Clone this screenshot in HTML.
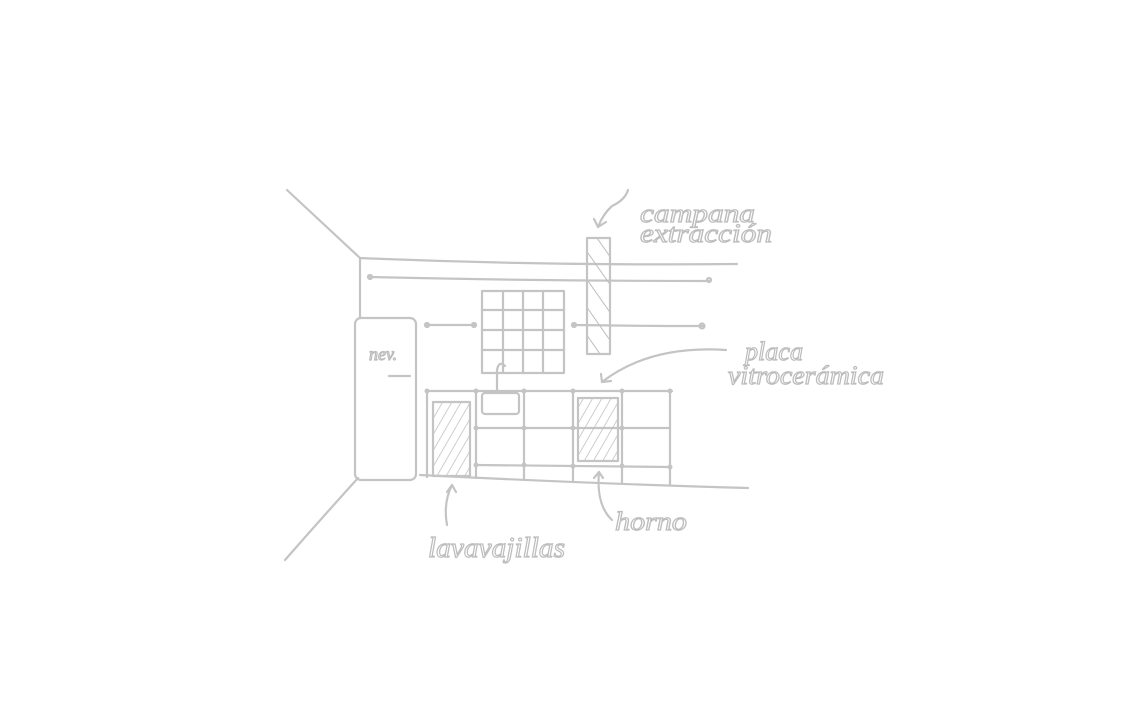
<!DOCTYPE html>
<html><head><meta charset="utf-8"><style>
html,body{margin:0;padding:0;background:#fff;}
svg{display:block}
text{font-family:"Liberation Serif",serif;font-style:italic;fill:#fff;stroke:#bdbdbd;stroke-width:1.2}
</style></head><body>
<svg width="1129" height="718" viewBox="0 0 1129 718" xmlns="http://www.w3.org/2000/svg">
<defs>
<pattern id="h" patternUnits="userSpaceOnUse" width="8" height="8" patternTransform="rotate(30)">
<line x1="0" y1="0" x2="0" y2="8" stroke="#bdbdbd" stroke-width="1.5"/>
</pattern>
<pattern id="h2" patternUnits="userSpaceOnUse" width="16" height="16" patternTransform="rotate(-35)">
<line x1="0" y1="0" x2="0" y2="16" stroke="#bdbdbd" stroke-width="2"/>
</pattern>
</defs>
<g fill="none" stroke="#c4c4c4" stroke-width="2.2" stroke-linecap="round" stroke-linejoin="round">
<path d="M287 190 Q330 230 360 258"/>
<path d="M360 258 L360 318"/>
<path d="M358 478 Q320 520 285 560"/>
<path d="M360 258 Q550 266 737 264"/>
<path d="M370 277 Q540 281 709 281"/>
<circle cx="370" cy="277" r="2"/><circle cx="709" cy="280" r="2"/>
<path d="M427 325 L474 325"/><circle cx="427" cy="325" r="2"/><circle cx="474" cy="325" r="2"/>
<path d="M574 325 Q640 326 703 326"/><circle cx="574" cy="325" r="2"/><circle cx="702" cy="326" r="2.5"/>
<rect x="482" y="291" width="82" height="82"/>
<path d="M503 291V373 M523 291V373 M543 291V373 M482 310H564 M482 330H564 M482 350H564"/>
<rect x="587" y="238" width="23" height="116" fill="url(#h2)"/>
<rect x="355" y="318" width="61" height="162" rx="6"/>
<path d="M389 376 L410 376"/>
<path d="M497 391 L497 370 Q499 360 505 366"/>
<path d="M427 391 L672 391"/>
<path d="M427 391 V477 M476 391 V478 M524 391 V480 M573 391 V482 M622 391 V483 M670 391 V485"/>
<path d="M476 428 L670 428"/>
<path d="M476 465 L670 467"/>
<path d="M420 475 Q600 484 748 488"/>
<rect x="482" y="393" width="37" height="21" rx="3"/>
<rect x="433" y="402" width="37" height="74" fill="url(#h)"/>
<rect x="578" y="398" width="40" height="63" fill="url(#h)"/>
<path d="M628 190 Q625 200 612 206 Q603 214 598 227"/>
<path d="M594 219 L598 227 L606 222"/>
<path d="M726 350 Q650 345 602 382"/>
<path d="M601 374 L602 382 L611 381"/>
<path d="M447 525 Q443 503 452 485"/>
<path d="M447 492 L452 485 L456 492"/>
<path d="M612 520 Q596 505 599 472"/>
<path d="M594 478 L599 472 L603 478"/>
</g>
<g fill="#c4c4c4">
<circle cx="427" cy="391" r="2.5"/><circle cx="476" cy="391" r="2.5"/><circle cx="524" cy="391" r="2.5"/><circle cx="573" cy="391" r="2.5"/><circle cx="622" cy="391" r="2.5"/><circle cx="670" cy="391" r="2.5"/>
<circle cx="476" cy="428" r="2.5"/><circle cx="524" cy="428" r="2.5"/><circle cx="573" cy="428" r="2.5"/><circle cx="622" cy="428" r="2.5"/>
<circle cx="476" cy="465" r="2.5"/><circle cx="524" cy="465" r="2.5"/><circle cx="573" cy="466" r="2.5"/><circle cx="622" cy="466" r="2.5"/><circle cx="670" cy="467" r="2.5"/>
</g>
<text x="369" y="360" font-size="18">nev.</text>
<text x="640" y="222" font-size="26" textLength="115" lengthAdjust="spacingAndGlyphs">campana</text>
<text x="640" y="242" font-size="26" textLength="132" lengthAdjust="spacingAndGlyphs">extracción</text>
<text x="745" y="360" font-size="26" textLength="58" lengthAdjust="spacingAndGlyphs">placa</text>
<text x="728" y="384" font-size="26" textLength="156" lengthAdjust="spacingAndGlyphs">vitrocerámica</text>
<text x="428" y="557" font-size="28" textLength="137" lengthAdjust="spacingAndGlyphs">lavavajillas</text>
<text x="615" y="530" font-size="26" textLength="72" lengthAdjust="spacingAndGlyphs">horno</text>
</svg>
</body></html>
